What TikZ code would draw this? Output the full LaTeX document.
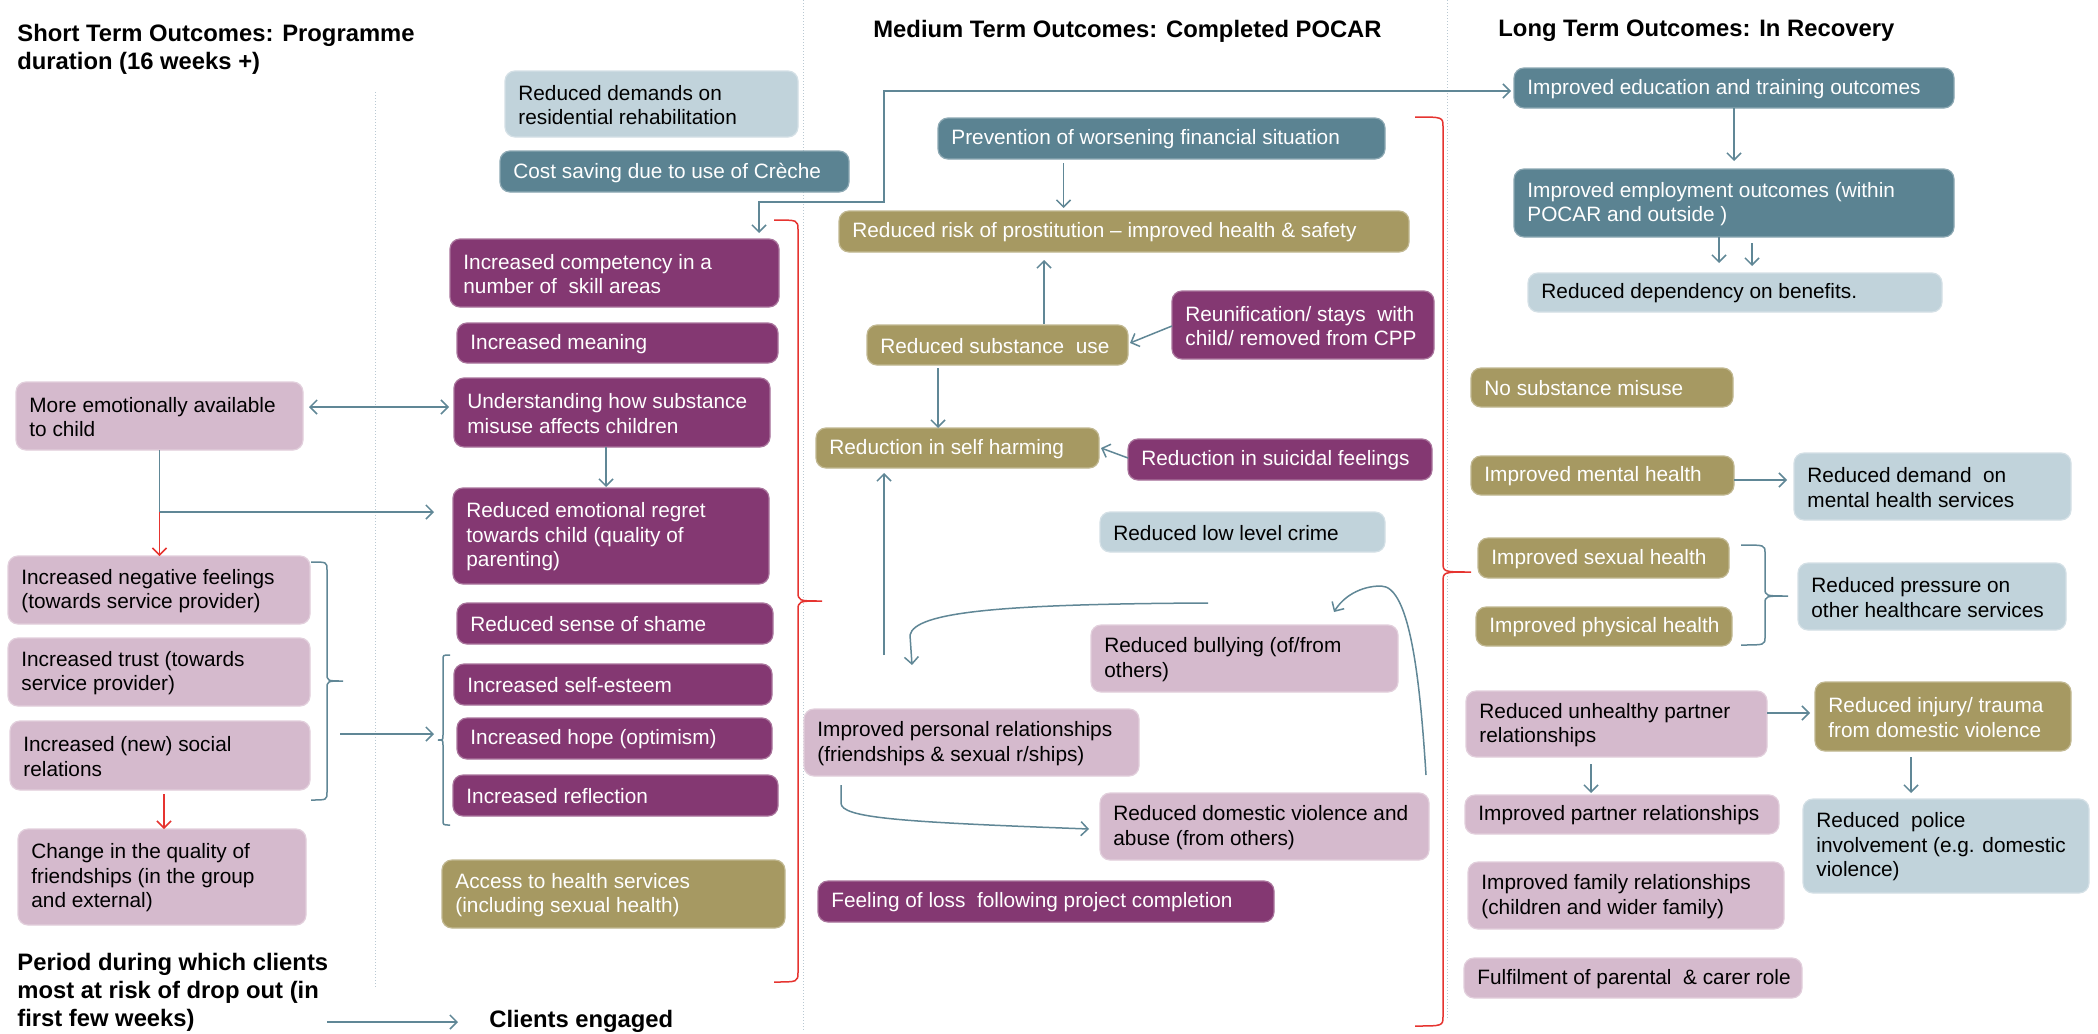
\documentclass[tikz,border=0pt]{standalone}
\usepackage{fontspec}
\setmainfont{Liberation Sans}
\usetikzlibrary{arrows.meta,calc,fit}
\definecolor{purpb}{RGB}{132,56,114}
\definecolor{pinkb}{RGB}{213,186,205}
\definecolor{oliveb}{RGB}{166,153,98}
\definecolor{tealb}{RGB}{91,131,146}
\definecolor{lblueb}{RGB}{193,211,219}
\definecolor{connc}{RGB}{96,135,150}
\definecolor{redc}{RGB}{230,52,48}
\definecolor{dotc}{RGB}{185,200,210}
\tikzset{
  boxshape/.style={rectangle, rounded corners=5pt, inner sep=0pt, outer sep=0pt, line width=0.6pt},
  btext/.style={font=\fontsize{10.4}{12.3}\selectfont, align=left, inner sep=0pt},
  ttext/.style={font=\bfseries\fontsize{11.9}{14}\selectfont, align=left, inner sep=0pt},
  conn/.style={draw=connc, line width=0.75pt, >={Straight Barb[length=3.5pt,width=7pt]}},
  redconn/.style={conn, draw=redc},
  tbrace/.style={draw=connc, line width=0.75pt},
  rbrace/.style={draw=redc, line width=0.75pt},
  dotl/.style={draw=dotc, line width=0.5pt, dash pattern=on 0.5pt off 1pt},
}
% box: name, fill, text colour, x1, y1, x2, y2, text
\newcommand{\bx}[8]{%
  \node[boxshape, fill=#2, draw=#2!70!white, fit={(#4,#5)(#6,#7)}] (#1) {};
  \node[btext, text=#3, anchor=west] (#1-t) at ($(#1.west)+(13,1)$) {#8};
}
% brace: style, x0 (ends), x1 (spine), x2 (tip), y0, ym, y1, r
\newcommand{\brc}[8]{%
  \draw[#1] (#2,#5) .. controls (#3,#5) .. (#3,#5+#8) -- (#3,#6-#8)
    .. controls (#3,#6) .. (#4,#6) .. controls (#3,#6) .. (#3,#6+#8)
    -- (#3,#7-#8) .. controls (#3,#7) .. (#2,#7);
}
\begin{document}
\begin{tikzpicture}[x=0.5pt, y=-0.5pt]
\fill[white] (0,0) rectangle (2098,1033);
\useasboundingbox (0,0) rectangle (2098,1033);

% column separators
\draw[dotl] (375,92) -- (375,989);
\draw[dotl] (803,0) -- (803,1030);
\draw[dotl] (1447,0) -- (1447,1020);

% titles
\node[ttext, anchor=north west] (sttitle) at (17,23.5) {Short Term Outcomes: Programme\\duration (16 weeks +)};
\node[ttext, anchor=base west] (mttitle) at (873,37) {Medium Term Outcomes: Completed POCAR};
\node[ttext, anchor=base west] (lttitle) at (1498,36) {Long Term Outcomes: In Recovery};
\node[ttext, anchor=north west] (period) at (17,952.5) {Period during which clients\\most at risk of drop out (in\\first few weeks)};
\node[ttext, anchor=base west] (engaged) at (489,1027) {Clients engaged};

% red braces
\brc{rbrace}{774}{798}{822}{220}{601}{982}{10}
\brc{rbrace}{1415}{1443}{1471}{117}{572}{1026}{10}

% short term column
\bx{resid}{lblueb}{black}{505}{71}{798}{137}{Reduced demands on\\residential rehabilitation}
\bx{cost}{tealb}{white}{500}{151}{849}{192}{Cost saving due to use of Crèche}
\bx{compet}{purpb}{white}{450}{239}{779}{307}{Increased competency in a\\number of~ skill areas}
\bx{meaning}{purpb}{white}{457}{323}{778}{363}{Increased meaning}
\bx{underst}{purpb}{white}{454}{378}{770}{447}{Understanding how substance\\misuse affects children}
\bx{regret}{purpb}{white}{453}{488}{769}{584}{Reduced emotional regret\\towards child (quality of\\parenting)}
\bx{shame}{purpb}{white}{457}{603}{773}{644}{Reduced sense of shame}
\bx{esteem}{purpb}{white}{454}{664}{772}{705}{Increased self-esteem}
\bx{hope}{purpb}{white}{457}{718}{772}{759}{Increased hope (optimism)}
\bx{reflect}{purpb}{white}{453}{775}{778}{816}{Increased reflection}
\bx{access}{oliveb}{white}{442}{860}{785}{928}{Access to health services\\(including sexual health)}
\bx{moreemo}{pinkb}{black}{16}{382}{303}{450}{More emotionally available\\to child}
\bx{negfeel}{pinkb}{black}{8}{556}{310}{624}{Increased negative feelings\\(towards service provider)}
\bx{trust}{pinkb}{black}{8}{638}{310}{706}{Increased trust (towards\\service provider)}
\bx{social}{pinkb}{black}{10}{721}{310}{790}{Increased (new) social\\relations}
\bx{change}{pinkb}{black}{18}{829}{306}{925}{Change in the quality of\\friendships (in the group\\and external)}

% medium term column
\bx{prevent}{tealb}{white}{938}{118}{1385}{159}{Prevention of worsening financial situation}
\bx{risk}{oliveb}{white}{839}{211}{1409}{252}{Reduced risk of prostitution – improved health \& safety}
\bx{subst}{oliveb}{white}{867}{325}{1128}{365}{Reduced substance~ use}
\bx{reunif}{purpb}{white}{1172}{291}{1434}{359}{Reunification/ stays~ with\\child/ removed from CPP}
\bx{selfharm}{oliveb}{white}{816}{428}{1099}{468}{Reduction in self harming}
\bx{suicid}{purpb}{white}{1128}{439}{1432}{480}{Reduction in suicidal feelings}
\bx{crime}{lblueb}{black}{1100}{512}{1385}{552}{Reduced low level crime}
\bx{bully}{pinkb}{black}{1091}{625}{1398}{692}{Reduced bullying (of/from\\others)}
\bx{personal}{pinkb}{black}{804}{709}{1139}{776}{Improved personal relationships\\(friendships \& sexual r/ships)}
\bx{domestic}{pinkb}{black}{1100}{793}{1429}{860}{Reduced domestic violence and\\abuse (from others)}
\bx{loss}{purpb}{white}{818}{881}{1274}{922}{Feeling of loss~ following project completion}

% long term column
\bx{edu}{tealb}{white}{1514}{68}{1954}{108}{Improved education and training outcomes}
\bx{employ}{tealb}{white}{1514}{169}{1954}{237}{Improved employment outcomes (within\\POCAR and outside )}
\bx{depend}{lblueb}{black}{1528}{273}{1942}{312}{Reduced dependency on benefits.}
\bx{nosub}{oliveb}{white}{1471}{368}{1733}{407}{No substance misuse}
\bx{mental}{oliveb}{white}{1471}{456}{1734}{495}{Improved mental health}
\bx{demand}{lblueb}{black}{1794}{453}{2071}{520}{Reduced demand~ on\\mental health services}
\bx{sexual}{oliveb}{white}{1478}{538}{1729}{578}{Improved sexual health}
\bx{physic}{oliveb}{white}{1476}{607}{1732}{646}{Improved physical health}
\bx{pressure}{lblueb}{black}{1798}{563}{2066}{630}{Reduced pressure on\\other healthcare services}
\bx{unhealthy}{pinkb}{black}{1466}{691}{1767}{757}{Reduced unhealthy partner\\relationships}
\bx{injury}{oliveb}{white}{1815}{682}{2071}{751}{Reduced injury/ trauma\\from domestic violence}
\bx{partner}{pinkb}{black}{1465}{795}{1779}{834}{Improved partner relationships}
\bx{police}{lblueb}{black}{1803}{799}{2089}{893}{Reduced~ police\\involvement (e.g. domestic\\violence)}
\bx{family}{pinkb}{black}{1468}{862}{1784}{929}{Improved family relationships\\(children and wider family)}
\bx{fulfil}{pinkb}{black}{1464}{958}{1802}{998}{Fulfilment of parental~ \& carer role}

% teal braces
\brc{tbrace}{311}{327}{343}{562}{681}{800}{8}
\brc{tbrace}{450}{443}{438}{655}{740}{825}{5}
\brc{tbrace}{1741}{1765}{1788}{545}{596}{645}{8}

% connectors: short term
\coordinate (cbend) at (884,202);
\draw[conn,<->] ($(compet.north east)+(-20,-6)$) |- (cbend) |- ($(edu.west)+(-3,3)$);
\draw[conn,<->] ($(moreemo.east)+(6,-9)$) -- ($(underst.west)+(-5,-5.5)$);
\path ($(moreemo.south)+(0,62)$) coordinate (cj);
\draw[conn,->,shorten >=9.5pt] (moreemo.south) -- (cj) -- (cj -| regret.west);
\draw[redconn,->] (cj) -- (cj |- negfeel.north);
\draw[redconn,->] ($(social.south)+(4,4)$) coordinate (r2) -- (r2 |- change.north);
\draw[conn,->,shorten >=0.5pt] ($(underst.south)+(-6,0)$) coordinate (u1) -- (u1 |- regret.north);
\coordinate (lbr) at (340,734);
\draw[conn,->] (lbr) -- ++(94,0);

% connectors: medium term
\draw[conn,->,shorten >=1.5pt] ($(prevent.south)+(-98,4)$) coordinate (m1) -- (m1 |- risk.north);
\draw[conn,->,shorten >=4pt] ($(subst.north)+(46.5,-1)$) coordinate (m2) -- (m2 |- risk.south);
\draw[conn,->] ($(reunif.west)+(0,1)$) -- ($(subst.east)+(2,-2)$);
\draw[conn,->] ($(subst.south)+(-59.5,3)$) coordinate (m3) -- (m3 |- selfharm.north);
\draw[conn,->] ($(suicid.west)+(0,-1.5)$) -- ($(selfharm.east)+(2,0)$);
\draw[conn,->,shorten >=2.5pt] ($(selfharm.south)+(-73.5,187)$) coordinate (m4) -- (m4 |- selfharm.south);
\coordinate (cvs) at (1208,603);
\coordinate (cve) at (912,665);
\draw[conn,->] (cvs) .. controls (1000,604) and (915,612) .. (910,635) -- (cve);
\draw[conn,->] ($(domestic.north east)+(-3,-18)$) .. controls (1420,680) and (1410,586) .. (1381,586) .. controls (1360,586) and (1343,597) .. (1334,612);
\draw[conn,->] ($(personal.south)+(-130.5,9)$) -- ++(0,18) .. controls +(0,15) and (900,822) .. ($(domestic.west)+(-11,2.5)$);

% connectors: long term
\draw[conn,->,shorten >=4pt] (edu.south) -- (employ.north);
\draw[conn,->,shorten >=5pt] ($(employ.south)+(-15,0)$) coordinate (l1) -- (l1 |- depend.north);
\draw[conn,->,shorten >=3.5pt] ($(employ.south)+(18,6)$) coordinate (l2) -- (l2 |- depend.north);
\draw[conn,->,shorten >=3.5pt] ($(mental.east)+(0,4.5)$) coordinate (l3) -- (l3 -| demand.west);
\draw[conn,->,shorten >=2.5pt] ($(unhealthy.east)+(0,-11)$) coordinate (l4) -- (l4 -| injury.west);
\draw[conn,->,shorten >=1pt] ($(unhealthy.south)+(-25.5,7)$) coordinate (l5) -- (l5 |- partner.north);
\draw[conn,->,shorten >=3pt] ($(injury.south)+(-32,6)$) coordinate (l6) -- (l6 |- police.north);

% bottom arrow
\draw[conn,->] ($(engaged.base west)+(-162,-5)$) -- ($(engaged.base west)+(-31,-5)$);
\end{tikzpicture}
\end{document}
